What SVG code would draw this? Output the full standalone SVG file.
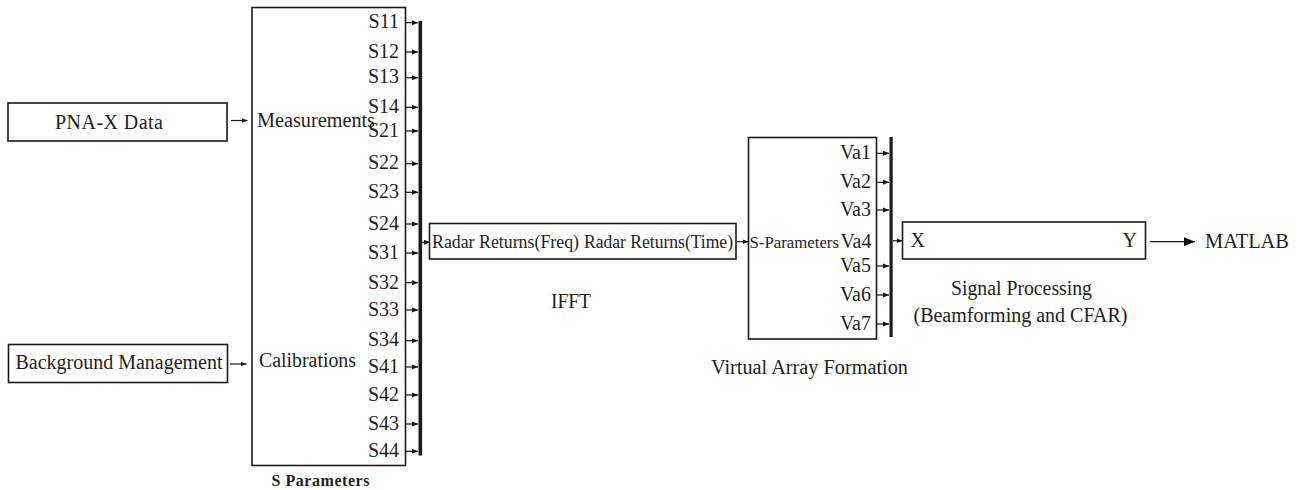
<svg xmlns="http://www.w3.org/2000/svg" width="1301" height="490" viewBox="0 0 1301 490">
<defs>
<marker id="ah" markerWidth="6" markerHeight="6" refX="6" refY="3" orient="auto" markerUnits="userSpaceOnUse"><path d="M0,0.5 L6,3 L0,5.5 z" fill="#111"/></marker>
<marker id="ahb" markerWidth="11" markerHeight="9" refX="11" refY="4.5" orient="auto" markerUnits="userSpaceOnUse"><path d="M0,0 L11,4.5 L0,9 z" fill="#111"/></marker>
<style>
text{font-family:"Liberation Serif","Times New Roman",serif;fill:#1e1e1e;font-size:20px}
.box{fill:#fff;stroke:#1a1a1a;stroke-width:1.6}
.bus{fill:#1a1a1a}
.port{stroke:#1a1a1a;stroke-width:1.2;fill:none;marker-end:url(#ah)}
.big{stroke:#1a1a1a;stroke-width:1.3;fill:none;marker-end:url(#ahb)}
.pl{font-size:18.5px}
.va{font-size:18px}
.cmp{font-size:19.5px}
.sp{font-size:16.8px}
.bold{font-weight:bold;font-size:16px}
</style>
</defs>

<g id="pna">
<rect class="box" x="8" y="103" width="219" height="38"/>
<text x="55" y="129" textLength="108" lengthAdjust="spacing">PNA-X Data</text>
</g>

<g id="background">
<rect class="box" x="8.5" y="344.5" width="219" height="38"/>
<text x="15.5" y="369" textLength="207" lengthAdjust="spacingAndGlyphs">Background Management</text>
</g>

<g id="sparams">
<rect class="box" x="252" y="7.5" width="153.5" height="458"/>
<text x="257" y="127" textLength="118" lengthAdjust="spacingAndGlyphs">Measurements</text>
<text x="259" y="367" textLength="97" lengthAdjust="spacingAndGlyphs">Calibrations</text>
<g class="pl" text-anchor="end">
<text x="399" y="28">S11</text>
<text x="399" y="57.5">S12</text>
<text x="399" y="83">S13</text>
<text x="399" y="112.5">S14</text>
<text x="399" y="137">S21</text>
<text x="399" y="169">S22</text>
<text x="399" y="198">S23</text>
<text x="399" y="229.5">S24</text>
<text x="399" y="259">S31</text>
<text x="399" y="288.5">S32</text>
<text x="399" y="315.5">S33</text>
<text x="399" y="346">S34</text>
<text x="399" y="372.5">S41</text>
<text x="399" y="400.5">S42</text>
<text x="399" y="430">S43</text>
<text x="399" y="457">S44</text>
</g>
<text class="bold" x="271.5" y="486" textLength="98" lengthAdjust="spacing">S Parameters</text>
<rect class="bus" x="418.5" y="21" width="3.6" height="434.5"/>
</g>

<g id="ifft">
<rect class="box" x="429.5" y="223.5" width="306.5" height="35.5"/>
<text class="cmp" x="432" y="247.5" textLength="147" lengthAdjust="spacingAndGlyphs">Radar Returns(Freq)</text>
<text class="cmp" x="584" y="247.5" textLength="149" lengthAdjust="spacingAndGlyphs">Radar Returns(Time)</text>
<text x="551" y="308" textLength="40" lengthAdjust="spacingAndGlyphs">IFFT</text>
</g>

<g id="virtual">
<rect class="box" x="748.5" y="137.5" width="128" height="201.5"/>
<text class="sp" x="749.5" y="247.5">S-Parameters</text>
<g class="va" text-anchor="end">
<text x="871" y="158.5">Va1</text>
<text x="871" y="187.5">Va2</text>
<text x="871" y="215.5">Va3</text>
<text x="871.5" y="247.5">Va4</text>
<text x="871" y="271.5">Va5</text>
<text x="871" y="300.5">Va6</text>
<text x="871" y="329.5">Va7</text>
</g>
<text x="711" y="374" textLength="197" lengthAdjust="spacingAndGlyphs">Virtual Array Formation</text>
<rect class="bus" x="889.5" y="137" width="3.2" height="200"/>
</g>

<g id="signal">
<rect class="box" x="902.5" y="222" width="243" height="37"/>
<text x="910.5" y="247">X</text>
<text x="1137" y="247" text-anchor="end">Y</text>
<text x="951" y="295" textLength="141" lengthAdjust="spacingAndGlyphs">Signal Processing</text>
<text x="913.5" y="321.5" textLength="214" lengthAdjust="spacingAndGlyphs">(Beamforming and CFAR)</text>
</g>

<g id="matlab">
<text x="1205" y="247.5" textLength="84" lengthAdjust="spacingAndGlyphs">MATLAB</text>
</g>

<g id="connectors">
<line class="port" x1="231" y1="120.5" x2="247.5" y2="120.5"/>
<line class="port" x1="230" y1="364" x2="246.5" y2="364"/>
<line class="port" x1="406" y1="22.7" x2="418" y2="22.7"/>
<line class="port" x1="406" y1="52" x2="418" y2="52"/>
<line class="port" x1="406" y1="77.7" x2="418" y2="77.7"/>
<line class="port" x1="406" y1="107.3" x2="418" y2="107.3"/>
<line class="port" x1="406" y1="131" x2="418" y2="131"/>
<line class="port" x1="406" y1="163.7" x2="418" y2="163.7"/>
<line class="port" x1="406" y1="192.3" x2="418" y2="192.3"/>
<line class="port" x1="406" y1="224" x2="418" y2="224"/>
<line class="port" x1="406" y1="253" x2="418" y2="253"/>
<line class="port" x1="406" y1="282.7" x2="418" y2="282.7"/>
<line class="port" x1="406" y1="310" x2="418" y2="310"/>
<line class="port" x1="406" y1="340.7" x2="418" y2="340.7"/>
<line class="port" x1="406" y1="367" x2="418" y2="367"/>
<line class="port" x1="406" y1="395" x2="418" y2="395"/>
<line class="port" x1="406" y1="424" x2="418" y2="424"/>
<line class="port" x1="406" y1="451.3" x2="418" y2="451.3"/>
<line class="port" x1="422" y1="242.3" x2="430" y2="242.3"/>
<line class="port" x1="737" y1="241.7" x2="748.5" y2="241.7"/>
<line class="port" x1="877" y1="153.3" x2="889" y2="153.3"/>
<line class="port" x1="877" y1="182.3" x2="889" y2="182.3"/>
<line class="port" x1="877" y1="210" x2="889" y2="210"/>
<line class="port" x1="877" y1="266" x2="889" y2="266"/>
<line class="port" x1="877" y1="295" x2="889" y2="295"/>
<line class="port" x1="877" y1="324" x2="889" y2="324"/>
<line class="port" x1="893" y1="240.7" x2="902.5" y2="240.7"/>
<line class="big" x1="1150" y1="241.7" x2="1195" y2="241.7"/>
</g>
</svg>
